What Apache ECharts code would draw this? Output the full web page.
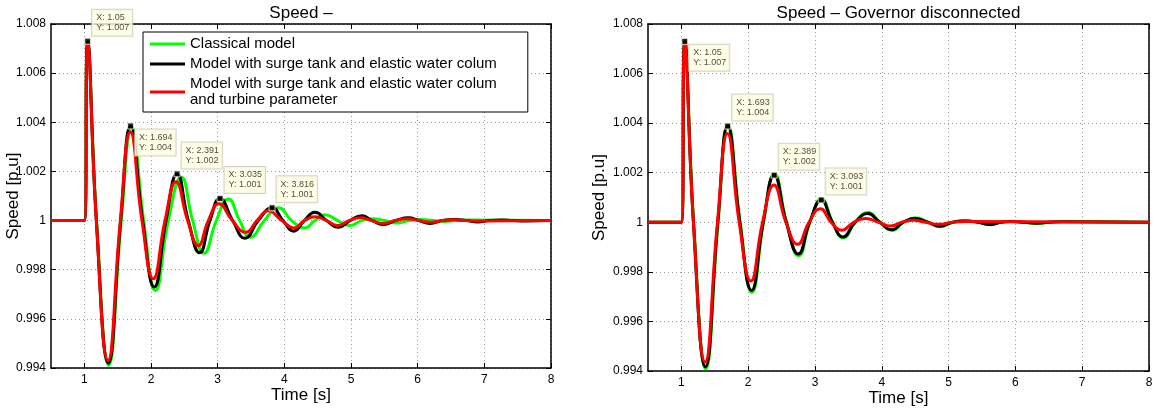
<!DOCTYPE html>
<html>
<head>
<meta charset="utf-8">
<script src="https://cdn.jsdelivr.net/npm/echarts@6/dist/echarts.min.js"></script>
<style>
  html, body { margin: 0; padding: 0; background: #fff; }
  #chart { width: 1162px; height: 413px; }
</style>
</head>
<body>
<div id="chart"></div>
<script>
// Rotor speed after a load step: three hydro-plant models, with and without governor.

const timeTicks = [1, 2, 3, 4, 5, 6, 7, 8];
const speedTicks = [0.994, 0.996, 0.998, 1, 1.002, 1.004, 1.006, 1.008];
const modelNames = [
  'Classical model',
  'Model with surge tank and elastic water colum',
  'Model with surge tank and elastic water colum\nand turbine parameter'
];
const plotTitles = ['Speed \u2013', 'Speed \u2013 Governor disconnected'];

// Governor connected, [time s, speed p.u.]
const govClassical = [
  [0.5, 1], [1.0, 1], [1.05, 1.0072], [1.185, 1.0], [1.365, 0.99411], [1.555, 1.0],
  [1.71, 1.0038], [1.89, 1.0], [2.065, 0.99715], [2.26, 1.0], [2.455, 1.00176],
  [2.625, 1.0], [2.795, 0.99867], [2.98, 1.0], [3.16, 1.00088], [3.33, 1.0],
  [3.49, 0.99932], [3.7, 1.0], [3.91, 1.00052], [4.11, 1.0], [4.3, 0.9997],
  [4.46, 1.0], [4.61, 1.00024], [4.8, 1.0], [4.985, 0.9998], [5.16, 1.0],
  [5.33, 1.00007], [5.5, 1.0], [5.685, 0.9999], [5.87, 1.0], [6.05, 1.00004],
  [6.23, 1.0], [6.4, 0.99996], [6.58, 1.0], [6.77, 1.00002], [8, 1.0]
];
const govSurge = [
  [0.5, 1], [1.0, 1], [1.05, 1.0073], [1.18, 1.0], [1.36, 0.9942], [1.545, 1.0],
  [1.694, 1.00385], [1.875, 1.0], [2.05, 0.9973], [2.225, 1.0], [2.391, 1.0019],
  [2.56, 1.0], [2.73, 0.99869], [2.885, 1.0], [3.035, 1.0009], [3.225, 1.0],
  [3.41, 0.99928], [3.61, 1.0], [3.816, 1.00052], [3.98, 1.0], [4.14, 0.99957],
  [4.3, 1.0], [4.46, 1.00034], [4.635, 1.0], [4.81, 0.99973], [4.985, 1.0],
  [5.16, 1.0002], [5.32, 1.0], [5.485, 0.99984], [5.67, 1.0], [5.86, 1.00011],
  [6.02, 1.0], [6.185, 0.99988], [6.37, 1.0], [6.56, 1.00004], [6.73, 1.0],
  [6.9, 0.99994], [7.08, 1.0], [7.26, 1.00002], [7.43, 1.0], [7.6, 0.99998], [8, 1.0]
];
const govTurbine = [
  [0.5, 1], [1.0, 1], [1.05, 1.0072], [1.18, 1.0], [1.355, 0.99431], [1.54, 1.0],
  [1.69, 1.0036], [1.865, 1.0], [2.035, 0.99763], [2.21, 1.0], [2.375, 1.00158],
  [2.55, 1.0], [2.71, 0.99898], [2.86, 1.0], [3.02, 1.00068], [3.22, 1.0],
  [3.42, 0.99952], [3.59, 1.0], [3.76, 1.0004], [3.96, 1.0], [4.15, 0.9997],
  [4.3, 1.0], [4.46, 1.00016], [4.63, 1.0], [4.8, 0.9998], [4.97, 1.0],
  [5.14, 1.00011], [5.31, 1.0], [5.485, 0.99988], [5.66, 1.0], [5.84, 1.00007],
  [6.02, 1.0], [6.2, 0.99993], [6.37, 1.0], [6.55, 1.00003], [6.72, 1.0],
  [6.9, 0.99998], [8, 1.0]
];

// Governor disconnected, [time s, speed p.u.]
const freeClassical = [
  [0.5, 1], [1.0, 1], [1.05, 1.00735], [1.185, 1.0], [1.363, 0.99408], [1.55, 1.0],
  [1.697, 1.00394], [1.88, 1.0], [2.055, 0.99717], [2.23, 1.0], [2.394, 1.00196],
  [2.575, 1.0], [2.755, 0.99865], [2.925, 1.0], [3.098, 1.00095], [3.265, 1.0],
  [3.425, 0.99937], [3.605, 1.0], [3.795, 1.00039], [3.975, 1.0], [4.155, 0.99967],
  [4.325, 1.0], [4.505, 1.00018], [4.695, 1.0], [4.875, 0.99982], [5.065, 1.0],
  [5.255, 1.00007], [5.445, 1.0], [5.625, 0.9999], [5.785, 1.0], [5.945, 1.00004],
  [6.135, 1.0], [6.325, 0.99995], [6.505, 1.0], [6.705, 1.00003], [8, 1.0]
];
const freeSurge = [
  [0.5, 1], [1.0, 1], [1.05, 1.0073], [1.18, 1.0], [1.36, 0.99417], [1.545, 1.0],
  [1.693, 1.00388], [1.875, 1.0], [2.05, 0.99725], [2.225, 1.0], [2.389, 1.0019],
  [2.57, 1.0], [2.75, 0.99872], [2.92, 1.0], [3.093, 1.0009], [3.26, 1.0],
  [3.42, 0.99941], [3.6, 1.0], [3.79, 1.00035], [3.97, 1.0], [4.15, 0.9997],
  [4.32, 1.0], [4.5, 1.00015], [4.69, 1.0], [4.87, 0.99984], [5.06, 1.0],
  [5.25, 1.00005], [5.44, 1.0], [5.62, 0.99991], [5.78, 1.0], [5.94, 1.00003],
  [6.13, 1.0], [6.32, 0.99996], [6.5, 1.0], [6.7, 1.00002], [8, 1.0]
];
const freeTurbine = [
  [0.5, 1], [1.0, 1], [1.05, 1.0072], [1.18, 1.0], [1.355, 0.99436], [1.54, 1.0],
  [1.69, 1.00358], [1.865, 1.0], [2.04, 0.99763], [2.215, 1.0], [2.385, 1.0015],
  [2.565, 1.0], [2.74, 0.99911], [2.91, 1.0], [3.08, 1.00055], [3.24, 1.0],
  [3.4, 0.99968], [3.58, 1.0], [3.76, 1.00015], [3.95, 1.0], [4.13, 0.99985],
  [4.3, 1.0], [4.47, 1.00008], [4.66, 1.0], [4.85, 0.99992], [5.05, 1.0],
  [5.25, 1.00003], [8, 1.0]
];

// Data cursors on the surge-tank model peaks, [time s, speed p.u.]
const govCursors = [[1.05, 1.0073], [1.694, 1.00385], [2.391, 1.0019], [3.035, 1.0009], [3.816, 1.00052]];
const freeCursors = [[1.05, 1.0073], [1.693, 1.00388], [2.389, 1.0019], [3.093, 1.0009]];

// ---------------------------------------------------------------------------
const FONT = '"Liberation Sans", Arial, Helvetica, sans-serif';
const COLORS = ['#00ff00', '#000000', '#ff0000'];
const grids = [
  { left: 51, top: 24, width: 500, height: 344, outerBoundsMode: 'none', containLabel: false },
  { left: 648, top: 24, width: 501, height: 347, outerBoundsMode: 'none', containLabel: false }
];
// Which side of the marker each cursor box sits on
const cursorSide = [
  ['up', 'down', 'up', 'up', 'up'],
  ['down', 'up', 'up', 'up']
];

// MATLAB-like datatip text: 4 significant digits, trailing zeros dropped
function sig4(v) {
  return String(parseFloat(v.toPrecision(4)));
}

function xAxes(g, nameGapX) {
  return [
    {
      type: 'value', gridIndex: g, min: 0.5, max: 8, position: 'bottom',
      axisLine: { show: true, onZero: false, lineStyle: { color: '#000', width: 1.5 } },
      axisTick: { show: true, inside: true, length: 5, customValues: timeTicks, lineStyle: { color: '#000', width: 1 } },
      axisLabel: { show: true, customValues: timeTicks, margin: 6, fontSize: 12, color: '#000', fontFamily: FONT },
      splitLine: { show: true, lineStyle: { color: '#9a9a9a', width: 1, type: [1, 3] } },
      name: 'Time [s]', nameLocation: 'middle', nameGap: nameGapX, nameMoveOverlap: false,
      nameTextStyle: { fontSize: 17, color: '#000', fontFamily: FONT }
    },
    {
      type: 'value', gridIndex: g, min: 0.5, max: 8, position: 'top',
      axisLine: { show: true, onZero: false, lineStyle: { color: '#000', width: 1.5 } },
      axisTick: { show: true, inside: true, length: 5, customValues: timeTicks, lineStyle: { color: '#000', width: 1 } },
      axisLabel: { show: false },
      splitLine: { show: false }
    }
  ];
}

function yAxes(g, nameGapY) {
  return [
    {
      type: 'value', gridIndex: g, min: 0.994, max: 1.008, interval: 0.002, position: 'left',
      axisLine: { show: true, onZero: false, lineStyle: { color: '#000', width: 1.5 } },
      axisTick: { show: true, inside: true, length: 5, customValues: speedTicks, lineStyle: { color: '#000', width: 1 } },
      axisLabel: {
        show: true, customValues: speedTicks, margin: 5, fontSize: 12, color: '#000', fontFamily: FONT,
        formatter: v => String(parseFloat(v.toFixed(3)))
      },
      splitLine: { show: true, lineStyle: { color: '#9a9a9a', width: 1, type: [1, 3] } },
      name: 'Speed [p.u]', nameLocation: 'middle', nameRotate: 90, nameGap: nameGapY, nameMoveOverlap: false,
      nameTextStyle: { fontSize: 17, color: '#000', fontFamily: FONT }
    },
    {
      type: 'value', gridIndex: g, min: 0.994, max: 1.008, interval: 0.002, position: 'right',
      axisLine: { show: true, onZero: false, lineStyle: { color: '#000', width: 1.5 } },
      axisTick: { show: true, inside: true, length: 5, customValues: speedTicks, lineStyle: { color: '#000', width: 1 } },
      axisLabel: { show: false },
      splitLine: { show: false }
    }
  ];
}

function curve(name, data, color, axisIdx, z) {
  return {
    type: 'line', name: name, data: data,
    xAxisIndex: axisIdx, yAxisIndex: axisIdx,
    smooth: 0.5, symbol: 'none', showSymbol: false,
    lineStyle: { color: color, width: 3 },
    itemStyle: { color: color },
    z: z, animation: false, silent: true
  };
}

function cursors(points, sides, axisIdx) {
  return {
    type: 'scatter', xAxisIndex: axisIdx, yAxisIndex: axisIdx,
    symbol: 'rect', symbolSize: 6, z: 10, animation: false, silent: true,
    itemStyle: { color: '#000', borderColor: '#ffffe0', borderWidth: 1 },
    label: {
      show: true, align: 'left', verticalAlign: 'top',
      fontSize: 9, lineHeight: 10, color: '#222', fontFamily: FONT,
      backgroundColor: '#ffffe1', borderColor: '#c8c8bc', borderWidth: 1,
      padding: [3, 3, 3, 4],
      formatter: p => 'X: ' + sig4(p.value[0]) + '\nY: ' + sig4(p.value[1])
    },
    data: points.map((pt, i) => ({
      value: pt,
      label: { position: sides[i] === 'up' ? [8, -28] : [8, 7] }
    }))
  };
}

const option = {
  animation: false,
  textStyle: { fontFamily: FONT },
  grid: grids,
  xAxis: [...xAxes(0, 19), ...xAxes(1, 19)],
  yAxis: [...yAxes(0, 29), ...yAxes(1, 40)],
  legend: {
    show: true, data: modelNames, orient: 'vertical', left: 143, top: 32,
    icon: 'rect', itemWidth: 35, itemHeight: 3, itemGap: 4,
    padding: [4, 31, 4, 7],
    backgroundColor: '#fff', borderColor: '#000', borderWidth: 1,
    selectedMode: false,
    textStyle: { fontSize: 15, lineHeight: 16, color: '#000', fontFamily: FONT }
  },
  graphic: [
    {
      type: 'text', x: grids[0].left + grids[0].width / 2, y: 13,
      style: { text: plotTitles[0], font: '17px ' + FONT, fill: '#000', align: 'center', verticalAlign: 'middle' }
    },
    {
      type: 'text', x: grids[1].left + grids[1].width / 2, y: 13,
      style: { text: plotTitles[1], font: '17px ' + FONT, fill: '#000', align: 'center', verticalAlign: 'middle' }
    }
  ],
  series: [
    curve(modelNames[0], govClassical, COLORS[0], 0, 2),
    curve(modelNames[1], govSurge, COLORS[1], 0, 3),
    curve(modelNames[2], govTurbine, COLORS[2], 0, 4),
    cursors(govCursors, cursorSide[0], 0),
    curve(modelNames[0], freeClassical, COLORS[0], 2, 2),
    curve(modelNames[1], freeSurge, COLORS[1], 2, 3),
    curve(modelNames[2], freeTurbine, COLORS[2], 2, 4),
    cursors(freeCursors, cursorSide[1], 2)
  ]
};

const chart = echarts.init(document.getElementById('chart'), null, { renderer: 'canvas' });
chart.setOption(option);
</script>
</body>
</html>
